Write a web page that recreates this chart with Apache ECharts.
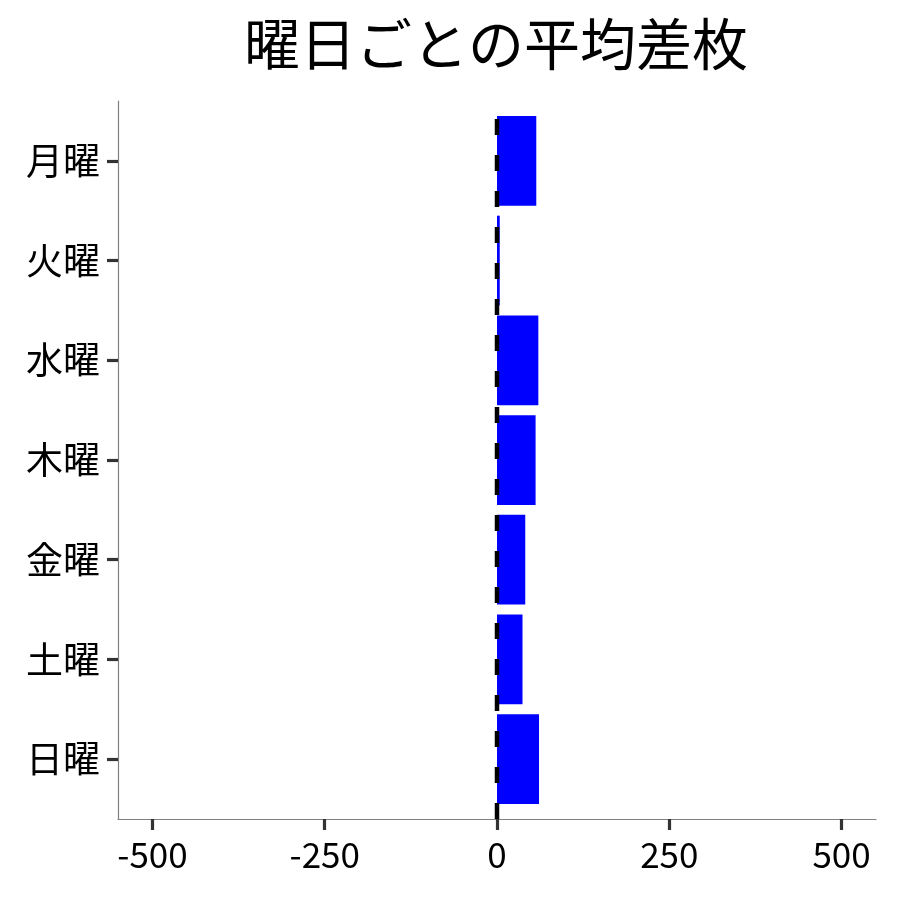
<!DOCTYPE html>
<html>
<head>
<meta charset="utf-8">
<script src="https://cdn.jsdelivr.net/npm/echarts@6/dist/echarts.min.js"></script>
<style>html,body{margin:0;padding:0;background:#fff}#c{width:900px;height:900px}</style>
</head>
<body>
<div id="c"></div>
<script>
const titleText = '曜日ごとの平均差枚';
const days = ['月曜', '火曜', '水曜', '木曜', '金曜', '土曜', '日曜'];
const avgDiff = [57, 4, 60, 56, 41, 37, 61];
const xTicks = [-500, -250, 0, 250, 500];
const xRange = [-550, 550];

const FONT = '"Noto Sans CJK JP", "Noto Sans", sans-serif';
const chart = echarts.init(document.getElementById('c'), null, {renderer: 'canvas'});
const barData = avgDiff.map((v, i) => [v, i]);
const yIdx = days.map((d, i) => i);

chart.setOption({
  animation: false,
  backgroundColor: '#ffffff',
  title: {
    text: titleText,
    left: 491, top: 11, textAlign: 'center',
    textStyle: {fontFamily: FONT, fontSize: 56, fontWeight: 'normal', color: '#000'}
  },
  grid: {left: 118, right: 24, top: 101, bottom: 81, containLabel: false},
  xAxis: {
    type: 'value', min: xRange[0], max: xRange[1],
    axisLine: {show: true, onZero: false, lineStyle: {color: '#808080', width: 1.2}},
    axisTick: {show: true, customValues: xTicks, length: 11, lineStyle: {color: '#333', width: 3.2}},
    axisLabel: {show: true, customValues: xTicks, margin: 18, fontFamily: FONT, fontSize: 35, color: '#000'},
    splitLine: {show: false}
  },
  yAxis: {
    type: 'value', min: -0.6, max: 6.6, inverse: true,
    axisLine: {show: true, onZero: false, lineStyle: {color: '#808080', width: 1.2}},
    axisTick: {show: true, customValues: yIdx, length: 11, lineStyle: {color: '#333', width: 3.2}},
    axisLabel: {show: true, customValues: yIdx, margin: 18, fontFamily: FONT, fontSize: 37, color: '#000',
      formatter: v => days[Math.round(v)] || ''},
    splitLine: {show: false}
  },
  series: [
    {
      type: 'custom',
      data: barData,
      encode: {x: 0, y: 1},
      renderItem: function (params, api) {
        const v = api.value(0), i = api.value(1);
        const p0 = api.coord([0, i]);
        const p1 = api.coord([v, i]);
        const h = Math.abs(api.size([0, 0.9])[1]);
        return {
          type: 'rect',
          shape: {x: Math.min(p0[0], p1[0]), y: p0[1] - h / 2, width: Math.abs(p1[0] - p0[0]), height: h},
          style: {fill: '#0000ff'}
        };
      },
      z: 2
    },
    {
      type: 'line',
      data: [[0, 6.6], [0, -0.6]],
      symbol: 'none',
      lineStyle: {color: '#000', width: 4.5, type: [16, 20]},
      z: 3,
      silent: true
    }
  ]
});
</script>
</body>
</html>
